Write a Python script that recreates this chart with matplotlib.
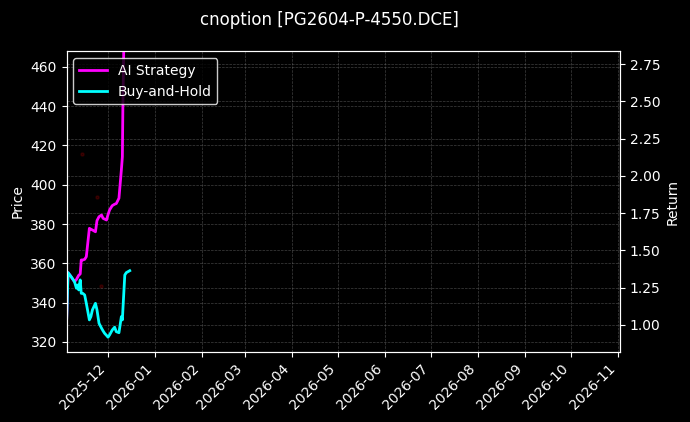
import numpy as np
import pandas as pd
import matplotlib
matplotlib.use("Agg")
import matplotlib.pyplot as plt
import matplotlib.dates as mdates

title = "cnoption [PG2604-P-4550.DCE]"

times = pd.to_datetime([
    "2025-11-04 00:00", "2025-11-05 00:00", "2025-11-07 00:00", "2025-11-09 06:00",
    "2025-11-10 12:00", "2025-11-11 12:00", "2025-11-12 00:00", "2025-11-13 00:00",
    "2025-11-13 16:00", "2025-11-14 16:00", "2025-11-15 22:00", "2025-11-17 00:00",
    "2025-11-19 00:00", "2025-11-20 00:00", "2025-11-21 00:00", "2025-11-23 00:00",
    "2025-11-24 00:00", "2025-11-25 08:00", "2025-11-27 00:00", "2025-11-28 00:00",
    "2025-11-29 00:00", "2025-11-30 06:00", "2025-12-01 06:00", "2025-12-02 06:00",
    "2025-12-04 00:00", "2025-12-05 14:00", "2025-12-06 16:00", "2025-12-08 10:00",
    "2025-12-10 00:00", "2025-12-10 16:00", "2025-12-11 00:00", "2025-12-12 06:00",
    "2025-12-13 06:00", "2025-12-15 12:00",
])

ai_returns = [
    1.011, 1.351, 1.324, 1.290, 1.305, 1.324, 1.333, 1.342,
    1.436, 1.436, 1.440, 1.458, 1.648, 1.642, 1.637, 1.625,
    1.700, 1.726, 1.737, 1.715, 1.710, 1.704, 1.740, 1.771,
    1.800, 1.810, 1.814, 1.850, 2.039, 2.128, 2.463, 3.300,
    3.400, 3.500,
]

bh_returns = [
    1.011, 1.351, 1.324, 1.290, 1.246, 1.268, 1.235, 1.302,
    1.212, 1.212, 1.201, 1.145, 1.034, 1.056, 1.101, 1.145,
    1.101, 1.011, 0.978, 0.960, 0.944, 0.930, 0.918, 0.933,
    0.966, 0.985, 0.955, 0.948, 1.056, 1.034, 1.101, 1.335,
    1.351, 1.364,
]

# faint trade markers on the price axis
signal_times = pd.to_datetime(["2025-11-14 10:00", "2025-11-24 05:00", "2025-11-26 10:00"])
signal_prices = [415.7, 393.8, 348.5]

plt.style.use("dark_background")
fig, ax = plt.subplots(figsize=(6.9, 4.22), dpi=100)
fig.subplots_adjust(left=0.0964, right=0.8986, top=0.879, bottom=0.166)

ax.scatter(signal_times, signal_prices, color="red", s=5, alpha=0.15, zorder=1)
ax.set_ylabel("Price")
ax.set_ylim(314.9, 468.0)
ax.grid(True, linestyle="--", linewidth=0.5, color="gray", alpha=0.5)

ax2 = ax.twinx()
ax2.plot(times, ai_returns, color="magenta", linewidth=2, label="AI Strategy")
ax2.plot(times, bh_returns, color="cyan", linewidth=2, label="Buy-and-Hold")
ax2.set_ylabel("Return")
ax2.set_ylim(0.819, 2.837)
ax2.grid(True, linestyle="--", linewidth=0.5, color="gray", alpha=0.5)

ax.set_xlim(pd.Timestamp("2025-11-04"), pd.Timestamp("2026-11-02 08:00"))
ax.xaxis.set_major_locator(mdates.MonthLocator())
ax.xaxis.set_major_formatter(mdates.DateFormatter("%Y-%m"))
plt.setp(ax.get_xticklabels(), rotation=45, ha="right")

leg = ax2.legend(loc="upper left", facecolor="black", edgecolor="white")

fig.suptitle(title, fontsize=12, x=0.477, y=0.975)
fig.savefig("out.png", dpi=100)
